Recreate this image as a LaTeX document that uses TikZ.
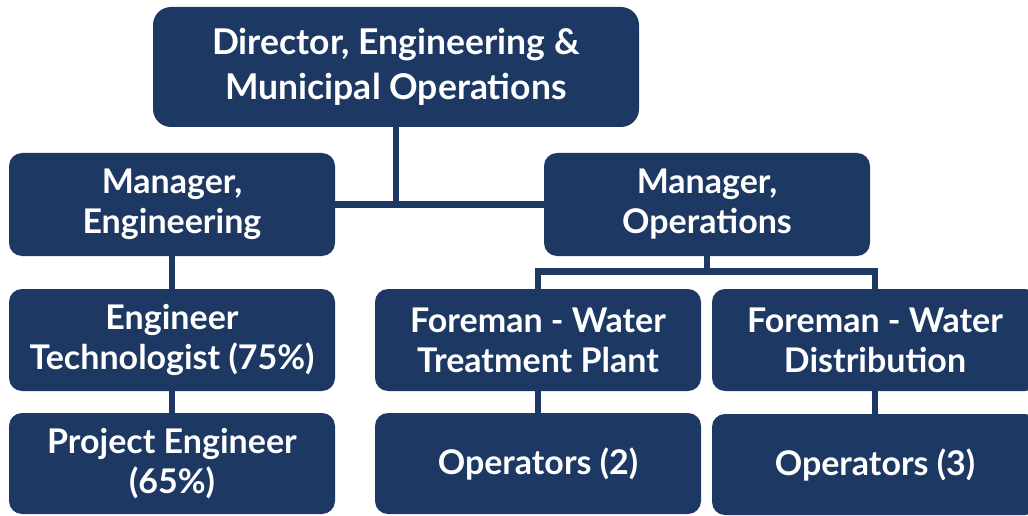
\documentclass[tikz,border=0pt]{standalone}
\usepackage{fontspec}
\setmainfont{Lato}
\usetikzlibrary{backgrounds}
\definecolor{navy}{RGB}{30,56,100}
\begin{document}
\begin{tikzpicture}[x=1pt,y=-1pt,
  box/.style={draw=none,fill=navy,rounded corners=13pt,text=white,align=center,
    font=\bfseries\fontsize{34}{40}\selectfont,inner sep=0pt,
    minimum width=326pt,minimum height=102pt},
  conn/.style={draw=navy,line width=6.5pt}]
\useasboundingbox (0,0) rectangle (1028,516);
\clip (0,0) rectangle (1028,516);
\node[box,minimum width=486pt,minimum height=120pt,rounded corners=18pt,font=\bfseries\fontsize{35.5}{45}\selectfont] (dir) at (396,67) {Director, Engineering \&\\Municipal Operations};
\node[box,minimum height=103pt] (meng) at (172,204.5) {Manager,\\Engineering};
\node[box,minimum height=103pt] (mops) at (707,204.5) {Manager,\\Operations};
\node[box] (et) at (172,340) {Engineer\\Technologist (75\%)};
\node[box,minimum height=101pt] (pe) at (172,463.5) {Project Engineer\\(65\%)};
\node[box] (fwtp) at (538,340) {Foreman - Water\\Treatment Plant};
\node[box] (fwd) at (875,340) {Foreman - Water\\Distribution};
\node[box,minimum height=101pt] (op2) at (538,463.5) {Operators (2)};
\node[box,minimum height=101pt] (op3) at (875,464.5) {Operators (3)};
\coordinate (bar) at (707,271.5);
\begin{scope}[on background layer]
\draw[conn] (dir.south) -- (dir.south |- meng.east);
\draw[conn] (meng.east) -- (mops.west);
\draw[conn] (meng.south) -- (et.north);
\draw[conn] (et.south) -- (pe.north);
\draw[conn] (mops.south) -- (bar);
\draw[conn] (fwtp.north) |- (bar) -| (fwd.north);
\draw[conn] (fwtp.south) -- (op2.north);
\draw[conn] (fwd.south) -- (op3.north);
\end{scope}
\end{tikzpicture}
\end{document}
